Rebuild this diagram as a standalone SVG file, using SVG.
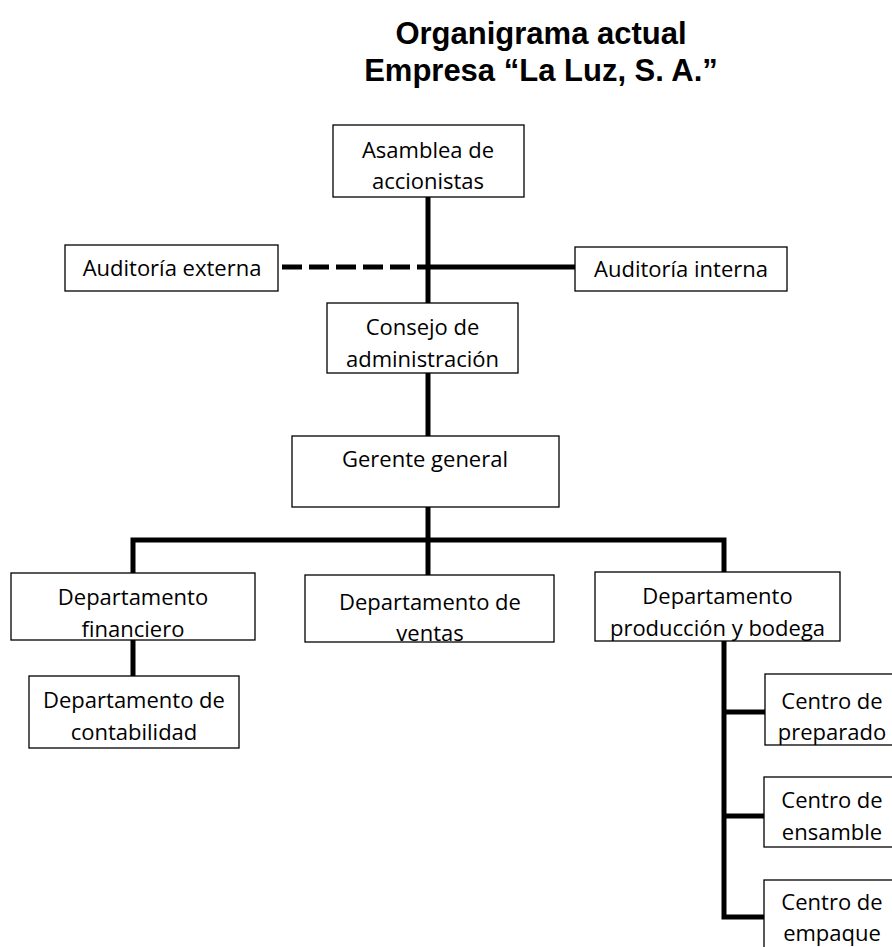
<svg xmlns="http://www.w3.org/2000/svg" width="892" height="947" viewBox="0 0 892 947">
<style>
.box{fill:#fff;stroke:#000;stroke-width:1.3}
.t{font-family:"Open Sans","Liberation Sans",sans-serif;font-size:22px;fill:#000;text-anchor:middle}
.title{font-family:"Liberation Sans",Arial,sans-serif;font-size:31px;font-weight:bold;fill:#000;text-anchor:middle}
.ln{fill:none;stroke:#000;stroke-width:5;stroke-linecap:butt;stroke-linejoin:miter}
.dash{stroke-dasharray:20 7}
</style>
<rect width="892" height="947" fill="#fff"/>
<g id="title">
<text class="title" x="541" y="44">Organigrama actual</text>
<text class="title" x="541" y="81">Empresa “La Luz, S. A.”</text>
</g>
<g id="connectors">
<line class="ln" x1="428" y1="197" x2="428" y2="303"/>
<line class="ln dash" x1="282" y1="267" x2="428" y2="267"/>
<line class="ln" x1="428" y1="267" x2="575" y2="267"/>
<line class="ln" x1="428" y1="373" x2="428" y2="436"/>
<line class="ln" x1="428" y1="507" x2="428" y2="575"/>
<polyline class="ln" points="133,573 133,540 724,540 724,572"/>
<line class="ln" x1="133" y1="640" x2="133" y2="676"/>
<polyline class="ln" points="724,641 724,917 765,917"/>
<line class="ln" x1="724" y1="712" x2="765" y2="712"/>
<line class="ln" x1="724" y1="816" x2="765" y2="816"/>
</g>
<g id="asamblea">
<rect class="box" x="333" y="125" width="191" height="72"/>
<text class="t" x="428" y="158">Asamblea de</text>
<text class="t" x="428" y="189">accionistas</text>
</g>
<g id="auditoria-externa">
<rect class="box" x="65" y="245" width="213" height="46"/>
<text class="t" x="172" y="276">Auditoría externa</text>
</g>
<g id="auditoria-interna">
<rect class="box" x="575" y="247" width="212" height="44"/>
<text class="t" x="681" y="277">Auditoría interna</text>
</g>
<g id="consejo">
<rect class="box" x="327" y="303" width="191" height="70"/>
<text class="t" x="422.5" y="335">Consejo de</text>
<text class="t" x="422.5" y="367">administración</text>
</g>
<g id="gerente">
<rect class="box" x="292" y="436" width="267" height="71"/>
<text class="t" x="425" y="467">Gerente general</text>
</g>
<g id="dep-financiero">
<rect class="box" x="11" y="573" width="244" height="67"/>
<text class="t" x="133" y="605">Departamento</text>
<text class="t" x="133" y="637">financiero</text>
</g>
<g id="dep-ventas">
<rect class="box" x="305" y="575" width="249" height="67"/>
<text class="t" x="430" y="610">Departamento de</text>
<text class="t" x="430" y="641">ventas</text>
</g>
<g id="dep-produccion">
<rect class="box" x="595" y="572" width="245" height="69"/>
<text class="t" x="717.5" y="604">Departamento</text>
<text class="t" x="717.5" y="636">producción y bodega</text>
</g>
<g id="dep-contabilidad">
<rect class="box" x="29" y="676" width="210" height="72"/>
<text class="t" x="134" y="708">Departamento de</text>
<text class="t" x="134" y="740">contabilidad</text>
</g>
<g id="centro-preparado">
<rect class="box" x="765" y="674" width="135" height="71"/>
<text class="t" x="832" y="709">Centro de</text>
<text class="t" x="832" y="740">preparado</text>
</g>
<g id="centro-ensamble">
<rect class="box" x="764" y="777" width="136" height="70"/>
<text class="t" x="832" y="808">Centro de</text>
<text class="t" x="832" y="840">ensamble</text>
</g>
<g id="centro-empaque">
<rect class="box" x="764" y="880" width="136" height="80"/>
<text class="t" x="832" y="910">Centro de</text>
<text class="t" x="832" y="941">empaque</text>
</g>
</svg>
